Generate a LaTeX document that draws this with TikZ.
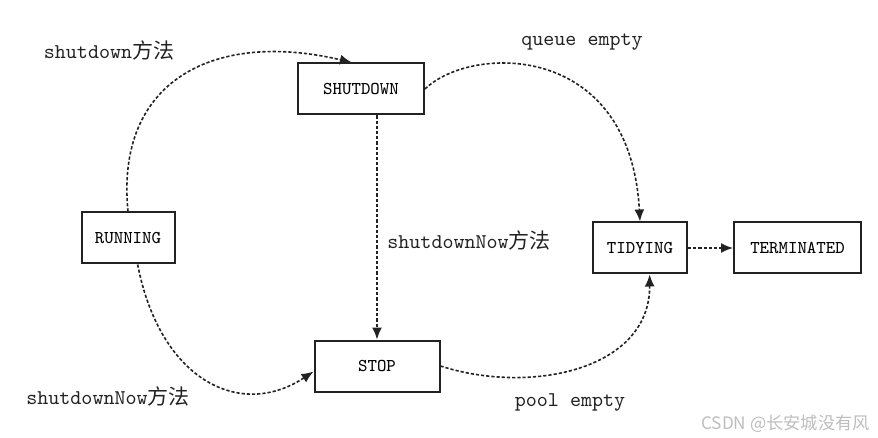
\documentclass[tikz,border=0pt]{standalone}
\usepackage{fontspec}
\newfontfamily\cjk{Noto Sans CJK SC}
\usepackage{xcolor}
\definecolor{lineDark}{HTML}{222222}
\definecolor{markGray}{HTML}{BDBDBD}
\usetikzlibrary{positioning,calc,arrows.meta}
\tikzset{%
  stateBox/.style={%
    rectangle,
    draw=lineDark,
    line width=1pt,
    fill=white,
    minimum height=25.5pt,
    inner sep=0pt,
    font=\ttfamily\fontsize{9}{11}\selectfont
  },
  flowArrow/.style={%
    -{Latex[length=6pt,width=5pt]},
    line width=0.8pt,
    dash pattern=on 1.6pt off 1pt,
    color=lineDark
  },
  edgeLabel/.style={%
    font=\ttfamily\fontsize{10.5}{12}\selectfont,
    text=lineDark,
    inner sep=0pt
  }
}

\begin{document}
\begin{tikzpicture}[x=0.5pt,y=-0.5pt]
            \useasboundingbox (0,0) rectangle (878,438);

            \node[stateBox, minimum width=63pt] (shutdown) at (361,89) {SHUTDOWN};
            \node[stateBox, minimum width=46.5pt] (running) at (128,238) {RUNNING};
            \node[stateBox, minimum width=62.5pt] (stop) at (377,366) {STOP};
            \node[stateBox, minimum width=47pt] (tidying) at (640,248) {TIDYING};
            \node[stateBox, minimum width=63.5pt, right=22.5pt of tidying] (terminated) {TERMINATED};

            \node[edgeLabel] (lblShutdown) at (109,50) {shutdown{\cjk 方法}};
            \node[edgeLabel] (lblQueue) at (582,42) {queue empty};
            \node[edgeLabel, anchor=west] (lblNowMid) at (387,240) {shutdownNow{\cjk 方法}};
            \node[edgeLabel] (lblNowLow) at (108,396) {shutdownNow{\cjk 方法}};
            \node[edgeLabel] (lblPool) at (570,402) {pool empty};
            \node[font=\cjk\fontsize{8.6}{10}\selectfont, text=markGray, anchor=east, inner sep=0pt] (mark) at (870,424) {CSDN @长安城没有风};

            \draw[flowArrow] (running.north) .. controls (115,80) and (215,30) .. (shutdown.109);
            \draw[flowArrow] (shutdown.east) .. controls (470,45) and (630,40) .. (tidying.north);
            \draw[flowArrow] (shutdown.south -| stop.north) -- (stop.north);
            \draw[flowArrow] (running.290) .. controls (160,380) and (240,420) .. (stop.185);
            \draw[flowArrow] (stop.east) .. controls (530,395) and (650,370) .. (tidying.290);
            \draw[flowArrow] (tidying) -- (terminated);
        \end{tikzpicture}
\end{document}
